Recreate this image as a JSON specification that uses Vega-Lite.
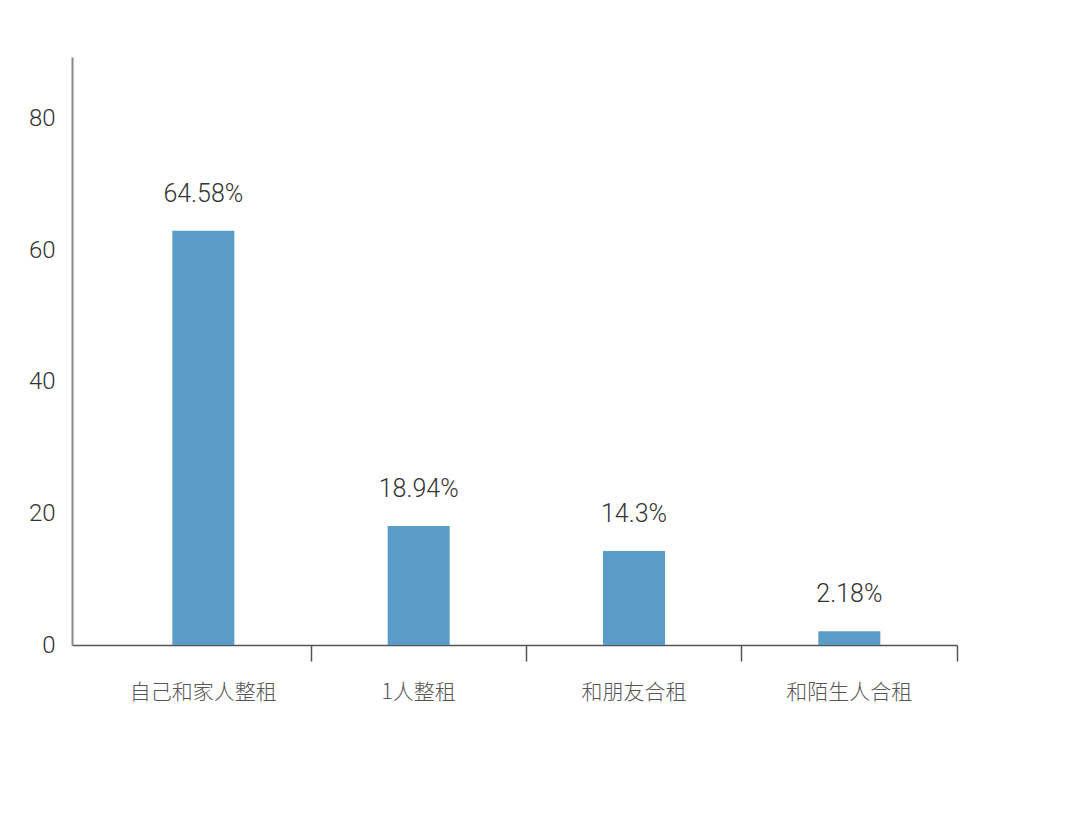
{
  "$schema": "https://vega.github.io/schema/vega-lite/v6.json",
  "width": 885,
  "height": 588,
  "autosize": "none",
  "padding": {"left": 72, "top": 57, "right": 120, "bottom": 177},
  "background": "white",
  "config": {"view": {"stroke": null}},
  "data": {
    "values": [
      {"category": "自己和家人整租", "value": 63.0, "label": "64.58%"},
      {"category": "1人整租", "value": 18.1, "label": "18.94%"},
      {"category": "和朋友合租", "value": 14.3, "label": "14.3%"},
      {"category": "和陌生人合租", "value": 2.1, "label": "2.18%"}
    ]
  },
  "encoding": {
    "x": {
      "field": "category",
      "type": "nominal",
      "sort": null,
      "scale": {"paddingInner": 0, "paddingOuter": 0.055, "align": 1},
      "axis": {
        "title": null,
        "labelAngle": 0,
        "labelFont": "Noto Sans CJK SC",
        "labelFontSize": 21,
        "labelFontWeight": 300,
        "labelColor": "#555555",
        "labelPadding": 20,
        "domainColor": "#555555",
        "domainWidth": 1.5,
        "tickColor": "#555555",
        "tickSize": 16,
        "tickWidth": 1.5,
        "bandPosition": 1
      }
    },
    "y": {
      "field": "value",
      "type": "quantitative",
      "scale": {"domain": [0, 89.4], "nice": false, "zero": true},
      "axis": {
        "title": null,
        "values": [0, 20, 40, 60, 80],
        "grid": false,
        "ticks": false,
        "labelFont": "Roboto",
        "labelFontSize": 24,
        "labelFontWeight": 300,
        "labelColor": "#333333",
        "labelPadding": 17,
        "domainColor": "#888888",
        "domainWidth": 2
      }
    }
  },
  "layer": [
    {"mark": {"type": "bar", "width": 62, "color": "#5b9bc8"}},
    {
      "mark": {
        "type": "text",
        "baseline": "middle",
        "dy": -37,
        "font": "Roboto",
        "fontSize": 25,
        "fontWeight": 300,
        "color": "#333333"
      },
      "encoding": {"text": {"field": "label"}}
    }
  ]
}
